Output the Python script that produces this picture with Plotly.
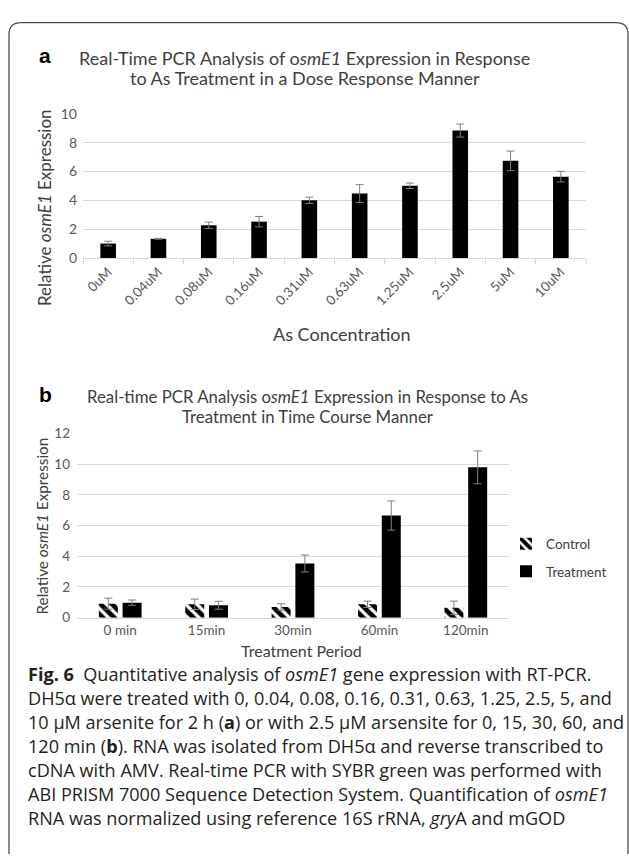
import plotly.graph_objects as go

W, H = 629, 857

# ---------------- data ----------------
conc = ["0uM", "0.04uM", "0.08uM", "0.16uM", "0.31uM", "0.63uM", "1.25uM", "2.5uM", "5uM", "10uM"]
dose_mean = [1.0, 1.33, 2.27, 2.52, 4.0, 4.47, 5.01, 8.84, 6.74, 5.64]
dose_err = [0.16, 0.03, 0.22, 0.36, 0.22, 0.62, 0.19, 0.45, 0.68, 0.37]

times = ["0 min", "15min", "30min", "60min", "120min"]
control_mean = [0.91, 0.87, 0.70, 0.87, 0.64]
control_err = [0.36, 0.34, 0.21, 0.21, 0.44]
treat_mean = [0.98, 0.81, 3.53, 6.65, 9.79]
treat_err = [0.17, 0.26, 0.55, 0.95, 1.07]

title_a = ["Real-Time PCR Analysis of o<i>smE1</i> Expression in Response",
           "to As Treatment in a Dose Response Manner"]
title_b = ["Real-time PCR Analysis o<i>smE1</i> Expression in Response to As",
           "Treatment in Time Course Manner"]

caption_lines = [
    "<b>Fig. 6</b>  Quantitative analysis of <i>osmE1</i> gene expression with RT-PCR.",
    "DH5α were treated with 0, 0.04, 0.08, 0.16, 0.31, 0.63, 1.25, 2.5, 5, and",
    "10 µM arsenite for 2 h (<b>a</b>) or with 2.5 µM arsensite for 0, 15, 30, 60, and",
    "120 min (<b>b</b>). RNA was isolated from DH5α and reverse transcribed to",
    "cDNA with AMV. Real-time PCR with SYBR green was performed with",
    "ABI PRISM 7000 Sequence Detection System. Quantification of <i>osmE1</i>",
    "RNA was normalized using reference 16S rRNA, <i>gry</i>A and mGOD",
]


def px(x):
    return x / W


def py(y):
    return 1 - y / H


FONT = "Lato"
CAPFONT = "Open Sans"
TXT = "#404040"
TICK = "#595959"
GRID = "#d9d9d9"
ERR = "#7f7f7f"

fig = go.Figure()

fig.add_trace(go.Bar(
    x=conc, y=dose_mean, xaxis="x", yaxis="y", width=0.31,
    marker=dict(color="black", line=dict(width=0)),
    error_y=dict(type="data", array=dose_err, color=ERR, thickness=1, width=4),
    showlegend=False,
))

fig.add_trace(go.Bar(
    x=times, y=control_mean, xaxis="x2", yaxis="y2", name="Control",
    legendgroup="c",
    marker=dict(color="white", line=dict(width=0),
                pattern=dict(shape="\\", fgcolor="black", bgcolor="white",
                             fgopacity=1, size=8, solidity=0.6)),
    error_y=dict(type="data", array=control_err, color=ERR, thickness=1, width=4),
))
fig.add_trace(go.Bar(
    x=times, y=treat_mean, xaxis="x2", yaxis="y2", name="Treatment",
    legendgroup="t",
    marker=dict(color="black", line=dict(width=0)),
    error_y=dict(type="data", array=treat_err, color=ERR, thickness=1, width=4),
))

ann = []
# panel labels
ann.append(dict(x=px(45), y=py(47), text="<b>a</b>", font=dict(family="Liberation Sans", size=21, color="black")))
ann.append(dict(x=px(45), y=py(393), text="<b>b</b>", font=dict(family="Liberation Sans", size=21, color="black")))
# titles
ann.append(dict(x=px(304.5), y=py(50), text=title_a[0], font=dict(family=FONT, size=18, color=TXT)))
ann.append(dict(x=px(304.5), y=py(70.5), text=title_a[1], font=dict(family=FONT, size=18, color=TXT)))
ann.append(dict(x=px(307), y=py(395), text=title_b[0], font=dict(family=FONT, size=16.8, color=TXT)))
ann.append(dict(x=px(307), y=py(416), text=title_b[1], font=dict(family=FONT, size=16.8, color=TXT)))
# axis titles
ann.append(dict(x=px(45), y=py(203), text="Relative <i>osmE1</i> Expression", textangle=-90,
                font=dict(family=FONT, size=17, color=TXT)))
ann.append(dict(x=px(342), y=py(332), text="As Concentration", font=dict(family=FONT, size=18, color=TXT)))
ann.append(dict(x=px(42), y=py(528), text="Relative <i>osmE1</i> Expression", textangle=-90,
                font=dict(family=FONT, size=15.3, color=TXT)))
ann.append(dict(x=px(301), y=py(654), text="Treatment Period", font=dict(family=FONT, size=16, color=TXT)))

for a in ann:
    a.update(xref="paper", yref="paper", showarrow=False, xanchor="center", yanchor="middle")

cap_y = [678, 703, 727.5, 752, 776, 800.5, 825]
for t, yy in zip(caption_lines, cap_y):
    ann.append(dict(x=px(26), y=py(yy), text=t, xref="paper", yref="paper", showarrow=False,
                    xanchor="left", yanchor="middle",
                    font=dict(family=CAPFONT, size=18.1, color="#231f20")))

r = 12
frame = (f"M{px(9)},{py(H+5)} L{px(9)},{py(14+r)} Q{px(9)},{py(14)} {px(9+r)},{py(14)} "
         f"L{px(628-r)},{py(14)} Q{px(628)},{py(14)} {px(628)},{py(14+r)} L{px(628)},{py(H+5)}")

fig.update_layout(
    width=W, height=H,
    margin=dict(l=0, r=0, t=0, b=0),
    paper_bgcolor="white", plot_bgcolor="white",
    barmode="group",
    bargap=0.45, bargroupgap=0.2,
    font=dict(family=FONT, color=TICK),
    annotations=ann,
    shapes=[dict(type="path", path=frame, xref="paper", yref="paper",
                 line=dict(color="#4d4d4d", width=1.3))],
    showlegend=True,
    legend=dict(x=px(506), y=py(530), xanchor="left", yanchor="top",
                font=dict(family=FONT, size=13.5, color=TXT),
                tracegroupgap=7, bgcolor="rgba(0,0,0,0)"),
    xaxis=dict(domain=[px(83), px(586)], anchor="y", type="category",
               showline=True, linecolor=GRID, linewidth=1,
               ticks="outside", tickson="boundaries", ticklen=5, tickcolor=GRID,
               tickangle=-45, tickfont=dict(family=FONT, size=13.5, color=TICK),
               showgrid=False),
    yaxis=dict(domain=[py(254), py(107)], anchor="x", range=[0, 10], dtick=2,
               showgrid=True, gridcolor=GRID, gridwidth=1, zeroline=False,
               showline=False, ticks="", ticklabelstandoff=5,
               tickfont=dict(family=FONT, size=14, color=TICK)),
    xaxis2=dict(domain=[px(77), px(509)], anchor="y2", type="category",
                showline=True, linecolor=GRID, linewidth=1, ticks="",
                tickfont=dict(family=FONT, size=13.5, color=TICK), showgrid=False),
    yaxis2=dict(domain=[py(621), py(433)], anchor="x2", range=[0, 12], dtick=2,
                showgrid=True, gridcolor=GRID, gridwidth=1, zeroline=False,
                showline=False, ticks="", ticklabelstandoff=6,
                tickfont=dict(family=FONT, size=13.5, color=TICK)),
)

fig.write_html("out.html")
